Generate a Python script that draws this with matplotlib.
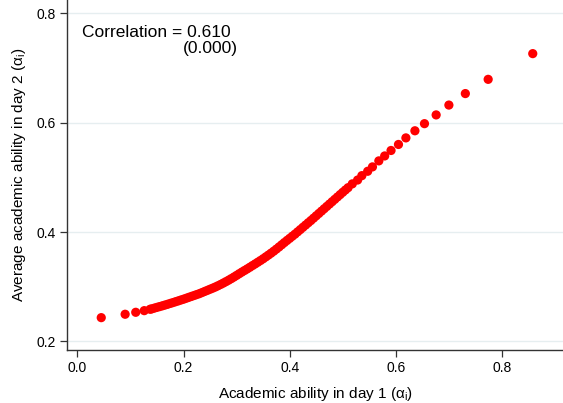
import numpy as np
import matplotlib
matplotlib.use("Agg")
import matplotlib.pyplot as plt

## Font: Arial-like
plt.rcParams['font.family'] = ['Liberation Sans', 'DejaVu Sans']
plt.rcParams['mathtext.fontset'] = 'custom'
plt.rcParams['mathtext.rm'] = 'Liberation Sans'

## Ability in day 1 (x) and average ability in day 2 (y)
ability_day1 = [0.045, 0.090, 0.110, 0.126, 0.137,
    0.140, 0.145, 0.150, 0.155, 0.160, 0.165, 0.170, 0.175, 0.180, 0.185,
    0.190, 0.195, 0.200, 0.205, 0.210, 0.215, 0.220, 0.225, 0.230, 0.235,
    0.240, 0.245, 0.250, 0.255, 0.260, 0.265, 0.270, 0.275, 0.280, 0.285,
    0.290, 0.295, 0.300, 0.305, 0.310, 0.315, 0.320, 0.325, 0.330, 0.335,
    0.340, 0.345, 0.350, 0.355, 0.360, 0.365, 0.370, 0.375, 0.380, 0.385,
    0.390, 0.395, 0.400, 0.405, 0.410, 0.415, 0.420, 0.425, 0.430, 0.435,
    0.440, 0.445, 0.450, 0.455, 0.460, 0.465, 0.470, 0.475, 0.480, 0.485,
    0.490, 0.495, 0.500, 0.505, 0.510,
    0.518, 0.528, 0.536, 0.547, 0.556, 0.568, 0.579, 0.591, 0.605, 0.619,
    0.636, 0.654, 0.676, 0.700, 0.731, 0.774, 0.858]
ability_day2 = [0.2435, 0.2497, 0.2533, 0.2563, 0.2588,
    0.2595, 0.2609, 0.2623, 0.2637, 0.2651, 0.2665, 0.2679, 0.2695, 0.2710, 0.2726,
    0.2741, 0.2757, 0.2772, 0.2789, 0.2806, 0.2823, 0.2840, 0.2857, 0.2874, 0.2894,
    0.2914, 0.2934, 0.2954, 0.2974, 0.2995, 0.3018, 0.3042, 0.3067, 0.3093, 0.3120,
    0.3148, 0.3177, 0.3207, 0.3238, 0.3268, 0.3297, 0.3326, 0.3356, 0.3387, 0.3417,
    0.3448, 0.3479, 0.3511, 0.3545, 0.3579, 0.3614, 0.3650, 0.3688, 0.3727, 0.3767,
    0.3807, 0.3846, 0.3884, 0.3923, 0.3961, 0.4003, 0.4044, 0.4086, 0.4127, 0.4169,
    0.4210, 0.4253, 0.4296, 0.4339, 0.4382, 0.4425, 0.4468, 0.4511, 0.4554, 0.4597,
    0.4640, 0.4683, 0.4726, 0.4768, 0.4810,
    0.4880, 0.4950, 0.5030, 0.5110, 0.5190, 0.5300, 0.5390, 0.5490, 0.5600, 0.5720,
    0.5850, 0.5980, 0.6140, 0.6320, 0.6530, 0.6790, 0.7260]

corr_text = "Correlation = 0.610"
pval_text = "(0.000)"
xticks = [0.0, 0.2, 0.4, 0.6, 0.8]
yticks = [0.2, 0.4, 0.6, 0.8]

fig = plt.figure(figsize=(5.63, 4.03), dpi=100)
ax = fig.add_axes([0.1195, 0.131, 0.8805, 0.869])

ax.scatter(ability_day1, ability_day2, s=44, color='#ff0000', edgecolors='none', zorder=3)

ax.set_xlim(-0.019, 0.915)
ax.set_ylim(0.184, 0.824)
ax.set_xticks(xticks)
ax.set_xticklabels(["%.1f" % t for t in xticks])
ax.set_yticks(yticks)
ax.set_yticklabels(["%.1f" % t for t in yticks])

## Stata-like grid
ax.grid(axis='y', color='#e6eef0', linewidth=1.0, zorder=0)
ax.grid(axis='x', visible=False)
ax.spines['top'].set_visible(False)
ax.spines['right'].set_visible(False)
for s in ['left', 'bottom']:
    ax.spines[s].set_color('#333333')
    ax.spines[s].set_linewidth(1.0)
ax.tick_params(direction='out', length=5, width=0.9, color='#333333', labelsize=10, pad=3)

ax.set_xlabel("Academic ability in day 1 (α$_\\mathrm{i}$)", fontsize=11, labelpad=7)
ax.set_ylabel("Average academic ability in day 2 (α$_\\mathrm{i}$)", fontsize=11, labelpad=6)

ax.text(0.009, 0.756, corr_text, fontsize=12.5, ha='left', va='baseline')
ax.text(0.303, 0.727, pval_text, fontsize=12.5, ha='right', va='baseline')

fig.savefig("out.png", dpi=100)
